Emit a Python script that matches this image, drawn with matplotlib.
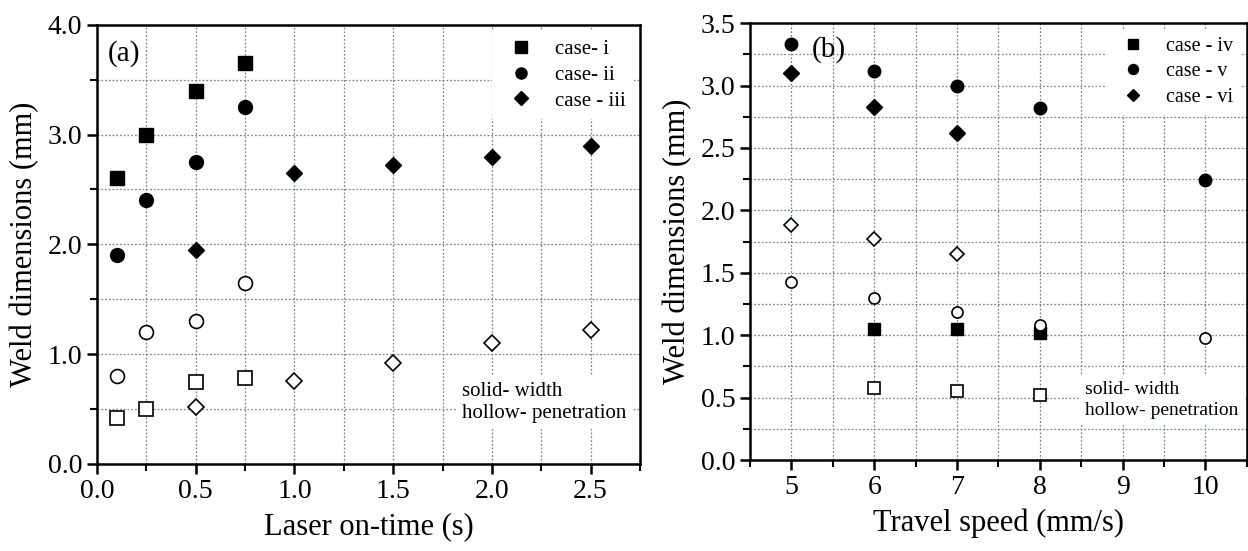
import numpy as np
import matplotlib
matplotlib.use('Agg')
import matplotlib.pyplot as plt
from matplotlib.ticker import MultipleLocator, FormatStrFormatter

plt.rcParams['font.family'] = ['Liberation Serif', 'DejaVu Serif']

# ---- panel (a): laser on-time ----
t_i = [0.1, 0.25, 0.5, 0.75]
w_i = [2.6, 3.0, 3.4, 3.65]
p_i = [0.42, 0.5, 0.75, 0.78]

t_ii = [0.1, 0.25, 0.5, 0.75]
w_ii = [1.9, 2.4, 2.75, 3.25]
p_ii = [0.8, 1.2, 1.3, 1.65]

t_iii = [0.5, 1.0, 1.5, 2.0, 2.5]
w_iii = [1.95, 2.65, 2.72, 2.8, 2.9]
p_iii = [0.52, 0.76, 0.92, 1.1, 1.22]

# ---- panel (b): travel speed ----
v_iv = [6, 7, 8]
w_iv = [1.05, 1.05, 1.02]
p_iv = [0.58, 0.55, 0.52]

v_v = [5, 6, 7, 8, 10]
w_v = [3.33, 3.12, 3.0, 2.82, 2.24]
p_v = [1.43, 1.3, 1.19, 1.08, 0.98]

v_vi = [5, 6, 7]
w_vi = [3.1, 2.83, 2.62]
p_vi = [1.88, 1.77, 1.65]

labels_a = ['case- i', 'case- ii', 'case - iii']
labels_b = ['case - iv', 'case - v', 'case - vi']


def style_axes(ax):
    for s in ax.spines.values():
        s.set_linewidth(1.8)
    ax.tick_params(which='major', direction='out', length=7, width=1.8, labelsize=20)
    ax.tick_params(which='minor', direction='out', length=5, width=1.5)
    ax.grid(True, which='both', linestyle=(0, (1.5, 1.5)), color='#7a8590', linewidth=0.9)
    ax.set_axisbelow(True)


def draw_cases(ax, xs, ws, ps, labels, ms_s, ms_h, fs):
    markers = ['s', 'o', 'D']
    handles = []
    for x, w, p, m in zip(xs, ws, ps, markers):
        k = 0.85 if m == 'D' else 1.0
        h, = ax.plot(x, w, linestyle='none', marker=m, color='black', markersize=ms_s * k, zorder=3)
        ax.plot(x, p, linestyle='none', marker=m, markerfacecolor='white', markeredgecolor='black',
                markeredgewidth=1.2, markersize=ms_h * k, zorder=3)
        handles.append(h)
    leg = ax.legend(handles, labels, loc='upper right', fontsize=fs, frameon=True, fancybox=False,
                    edgecolor='none', framealpha=1, borderaxespad=0.3, handletextpad=0.6,
                    labelspacing=0.3, markerscale=0.8)
    leg.get_frame().set_linewidth(0)


fig = plt.figure(figsize=(12.48, 5.51), dpi=100)
ax1 = fig.add_axes([0.0777, 0.158, 0.4351, 0.797])
ax2 = fig.add_axes([0.601, 0.165, 0.398, 0.793])

# panel (a)
draw_cases(ax1, [t_i, t_ii, t_iii], [w_i, w_ii, w_iii], [p_i, p_ii, p_iii], labels_a, 10, 10, 15)
ax1.set_xlim(0, 2.75)
ax1.set_ylim(0, 4.0)
ax1.xaxis.set_major_locator(MultipleLocator(0.5))
ax1.xaxis.set_minor_locator(MultipleLocator(0.25))
ax1.yaxis.set_major_locator(MultipleLocator(1.0))
ax1.yaxis.set_minor_locator(MultipleLocator(0.5))
ax1.xaxis.set_major_formatter(FormatStrFormatter('%.1f'))
ax1.yaxis.set_major_formatter(FormatStrFormatter('%.1f'))
style_axes(ax1)
ax1.set_xlabel('Laser on-time (s)', fontsize=22, labelpad=6)
ax1.set_ylabel('Weld dimensions (mm)', fontsize=22, labelpad=6)
ax1.text(0.02, 0.935, '(a)', transform=ax1.transAxes, fontsize=21, va='center')
ax1.text(0.672, 0.14, 'solid- width\nhollow- penetration', transform=ax1.transAxes, fontsize=15,
         linespacing=1.25, va='center', ha='left', zorder=4,
         bbox=dict(facecolor='white', edgecolor='none', pad=4))

# panel (b)
draw_cases(ax2, [v_iv, v_v, v_vi], [w_iv, w_v, w_vi], [p_iv, p_v, p_vi], labels_b, 9, 8, 14.5)
ax2.set_xlim(4.5, 10.5)
ax2.set_ylim(0, 3.5)
ax2.xaxis.set_major_locator(MultipleLocator(1))
ax2.xaxis.set_minor_locator(MultipleLocator(0.5))
ax2.yaxis.set_major_locator(MultipleLocator(0.5))
ax2.yaxis.set_minor_locator(MultipleLocator(0.25))
ax2.yaxis.set_major_formatter(FormatStrFormatter('%.1f'))
style_axes(ax2)
ax2.set_xlabel('Travel speed (mm/s)', fontsize=22, labelpad=6)
ax2.set_ylabel('Weld dimensions (mm)', fontsize=22, labelpad=6)
ax2.text(0.125, 0.94, '(b)', transform=ax2.transAxes, fontsize=21, va='center')
ax2.text(0.674, 0.137, 'solid- width\nhollow- penetration', transform=ax2.transAxes, fontsize=14,
         linespacing=1.3, va='center', ha='left', zorder=4,
         bbox=dict(facecolor='white', edgecolor='none', pad=4))

fig.savefig('out.png', dpi=100)
